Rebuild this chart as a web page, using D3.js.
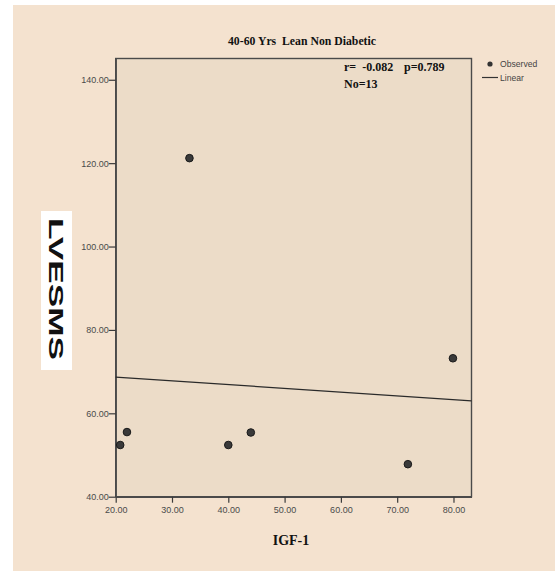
<!DOCTYPE html>
<html>
<head>
<meta charset="utf-8">
<script src="https://cdn.jsdelivr.net/npm/d3@7"></script>
<style>
  html, body { margin: 0; padding: 0; background: #ffffff; }
  svg { display: block; }
</style>
</head>
<body>
<svg id="chart" width="555" height="571"></svg>
<script>
// ---- data ----
const igf1 = [20.8, 22.0, 33.1, 40.0, 44.0, 71.9, 79.9];
const lvesms = [52.4, 55.5, 121.2, 52.4, 55.4, 47.8, 73.2];
const fitX = [20, 83.2];
const fitY = [68.7, 63.0];
const xTicks = [20, 30, 40, 50, 60, 70, 80];
const yTicks = [40, 60, 80, 100, 120, 140];
const titleText = "40-60 Yrs  Lean Non Diabetic";
const xLabel = "IGF-1";
const yLabel = "LVESMS";
const statLine1a = "r=  -0.082";
const statLine1b = "p=0.789";
const statLine2 = "No=13";
const legendLabels = ["Observed", "Linear"];

// ---- layout ----
const svg = d3.select("#chart");
const plot = { left: 115.7, top: 58.5, right: 471.5, bottom: 496.7 };

svg.append("rect").attr("x", 13).attr("y", 5).attr("width", 542).attr("height", 566)
  .attr("fill", "#f4e2cf");

const x = d3.scaleLinear().domain([20, 83.2]).range([plot.left, plot.right]);
const y = d3.scaleLinear().domain([40, 145.1]).range([plot.bottom, plot.top]);

svg.append("rect")
  .attr("x", plot.left).attr("y", plot.top)
  .attr("width", plot.right - plot.left).attr("height", plot.bottom - plot.top)
  .attr("fill", "#ecdcc8").attr("stroke", "#4a4a4a").attr("stroke-width", 1.4);

// axes
const xAxis = d3.axisBottom(x).tickValues(xTicks).tickFormat(d3.format(".2f"))
  .tickSize(6).tickSizeOuter(0);
const yAxis = d3.axisLeft(y).tickValues(yTicks).tickFormat(d3.format(".2f"))
  .tickSize(7).tickSizeOuter(0);

const gx = svg.append("g").attr("transform", `translate(0,${plot.bottom})`).call(xAxis);
const gy = svg.append("g").attr("transform", `translate(${plot.left},0)`).call(yAxis);
[gx, gy].forEach(g => {
  g.select(".domain").attr("stroke", "#4a4a4a").attr("stroke-width", 1.4);
  g.selectAll(".tick line").attr("stroke", "#3a3a3a").attr("stroke-width", 1.2);
  g.selectAll(".tick text").attr("fill", "#4a4a4a").attr("font-family", "Liberation Sans, Arial, sans-serif")
    .attr("font-size", 9);
});
gx.selectAll(".tick text").attr("dy", "1.1em").attr("y", 6);
gy.selectAll(".tick text").attr("x", -7).attr("dy", "0.32em");

// fit line
svg.append("line")
  .attr("x1", x(fitX[0])).attr("y1", y(fitY[0]))
  .attr("x2", x(fitX[1])).attr("y2", y(fitY[1]))
  .attr("stroke", "#2a2a2a").attr("stroke-width", 1.3);

// points
svg.append("g").selectAll("circle").data(igf1.map((v, i) => [v, lvesms[i]]))
  .join("circle")
  .attr("cx", d => x(d[0])).attr("cy", d => y(d[1])).attr("r", 3.8)
  .attr("fill", "#3a3a3a").attr("stroke", "#1a1a1a").attr("stroke-width", 1);

// title
svg.append("text").attr("x", 302).attr("y", 45).attr("text-anchor", "middle")
  .attr("font-family", "Liberation Serif, Times New Roman, serif").attr("font-weight", "bold")
  .attr("font-size", 11.5).attr("fill", "#111").style("white-space", "pre")
  .attr("textLength", 148).attr("lengthAdjust", "spacingAndGlyphs")
  .text(titleText);

// stats
const statFont = "Liberation Serif, Times New Roman, serif";
svg.append("text").attr("x", 344).attr("y", 70.5).attr("font-family", statFont)
  .attr("font-weight", "bold").attr("font-size", 12).attr("fill", "#111").style("white-space", "pre")
  .text(statLine1a);
svg.append("text").attr("x", 404).attr("y", 70.5).attr("font-family", statFont)
  .attr("font-weight", "bold").attr("font-size", 12).attr("fill", "#111")
  .text(statLine1b);
svg.append("text").attr("x", 344).attr("y", 88).attr("font-family", statFont)
  .attr("font-weight", "bold").attr("font-size", 12).attr("fill", "#111")
  .text(statLine2);

// x label
svg.append("text").attr("x", 291).attr("y", 545).attr("text-anchor", "middle")
  .attr("font-family", statFont).attr("font-weight", "bold").attr("font-size", 14)
  .attr("fill", "#111").text(xLabel);

// y label with white box
svg.append("rect").attr("x", 41).attr("y", 211).attr("width", 31).attr("height", 159).attr("fill", "#ffffff");
svg.append("text")
  .attr("transform", "translate(49,289) rotate(90)")
  .attr("text-anchor", "middle")
  .attr("font-family", "Liberation Sans, Arial, sans-serif").attr("font-weight", "bold")
  .attr("font-size", 21).attr("fill", "#111")
  .attr("textLength", 142).attr("lengthAdjust", "spacingAndGlyphs")
  .text(yLabel);

// legend
svg.append("circle").attr("cx", 490).attr("cy", 64).attr("r", 2.6).attr("fill", "#333");
svg.append("text").attr("x", 500).attr("y", 67).attr("font-family", "Liberation Sans, Arial, sans-serif")
  .attr("font-size", 8.6).attr("fill", "#444").text(legendLabels[0]);
svg.append("line").attr("x1", 482).attr("x2", 498).attr("y1", 77.5).attr("y2", 77.5)
  .attr("stroke", "#333").attr("stroke-width", 1.2);
svg.append("text").attr("x", 500).attr("y", 80.5).attr("font-family", "Liberation Sans, Arial, sans-serif")
  .attr("font-size", 8.6).attr("fill", "#444").text(legendLabels[1]);
</script>
</body>
</html>
